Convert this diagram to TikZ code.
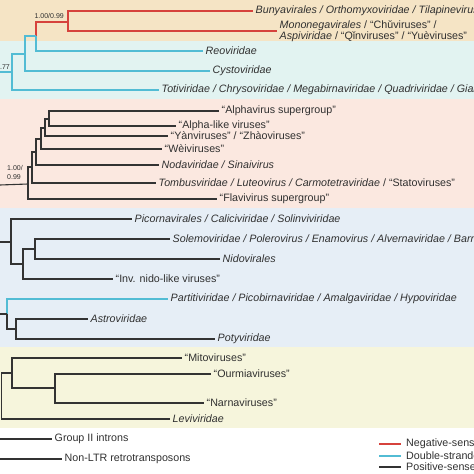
\documentclass[tikz,border=0pt]{standalone}
\usepackage{fontspec}
\setmainfont{Liberation Sans}
\usetikzlibrary{positioning}

\definecolor{negred}{HTML}{D6423C}
\definecolor{dscyan}{HTML}{52BCD4}
\definecolor{posgrey}{HTML}{333333}
\definecolor{txtgrey}{HTML}{303030}
\definecolor{bandtan}{HTML}{F5E4C5}
\definecolor{bandcyan}{HTML}{E2F3F1}
\definecolor{bandpink}{HTML}{FBE8E0}
\definecolor{bandblue}{HTML}{E6EEF6}
\definecolor{bandyel}{HTML}{F6F5DC}

\begin{document}
\begin{tikzpicture}[x=1pt,y=-1pt,
  br/.style={line width=1.1pt,posgrey},
  neg/.style={br,negred},
  dsr/.style={br,dscyan},
  tip/.style={anchor=west,inner sep=2.5pt,text=txtgrey,font=\fontsize{10.7}{9}\selectfont},
  supp/.style={inner sep=1pt,text=txtgrey,font=\fontsize{7}{8.5}\selectfont}]
\useasboundingbox (0,0) rectangle (474,474);
\clip (0,0) rectangle (474,474);

% coloured bands behind the clades
\fill[bandtan]  (0,0)   rectangle (474,41);
\fill[bandcyan] (0,41)  rectangle (474,99);
\fill[bandpink] (0,99)  rectangle (474,208);
\fill[bandblue] (0,208) rectangle (474,347);
\fill[bandyel]  (0,347) rectangle (474,428);

% tips
\node[tip] (bunya) at (253,11) {\textit{Bunyavirales / Orthomyxoviridae / Tilapinevirus}};
\node[tip,align=left] (monon) at (277,31) {\textit{Mononegavirales} / “Chǔviruses” /\\\textit{Aspiviridae} / “Qǐnviruses” / “Yuèviruses”};
\node[tip] (reo) at (203,51) {\textit{Reoviridae}};
\node[tip] (cysto) at (210,71) {\textit{Cystoviridae}};
\node[tip] (toti) at (159,90) {\textit{Totiviridae / Chrysoviridae / Megabirnaviridae / Quadriviridae / Giardiavirus}};
\node[tip] (alpha) at (219,111) {“Alphavirus supergroup”};
\node[tip] (alphal) at (176,126) {“Alpha-like viruses”};
\node[tip] (yan) at (168,136) {“Yànviruses” / “Zhàoviruses”};
\node[tip] (wei) at (162,149) {“Wèiviruses”};
\node[tip] (noda) at (159,165) {\textit{Nodaviridae / Sinaivirus}};
\node[tip] (tomb) at (156,183) {\textit{Tombusviridae / Luteovirus / Carmotetraviridae} / “Statoviruses”};
\node[tip] (flavi) at (217,199) {“Flavivirus supergroup”};
\node[tip] (picorna) at (132,219) {\textit{Picornavirales / Caliciviridae / Solinviviridae}};
\node[tip] (solemo) at (170,239) {\textit{Solemoviridae / Polerovirus / Enamovirus / Alvernaviridae / Barnaviridae}};
\node[tip] (nido) at (220,259) {\textit{Nidovirales}};
\node[tip] (inv) at (113,279) {“Inv. nido-like viruses”};
\node[tip] (parti) at (168,299) {\textit{Partitiviridae / Picobirnaviridae / Amalgaviridae / Hypoviridae}};
\node[tip] (astro) at (88,319) {\textit{Astroviridae}};
\node[tip] (poty) at (215,339) {\textit{Potyviridae}};
\node[tip] (mito) at (182,358) {“Mitoviruses”};
\node[tip] (ourmia) at (211,374) {“Ourmiaviruses”};
\node[tip] (narna) at (204,403) {“Narnaviruses”};
\node[tip] (levi) at (170,419) {\textit{Leviviridae}};
\node[tip] (intron) at (52,439) {Group II introns};
\node[tip] (nonltr) at (62,459) {Non-LTR retrotransposons};

% internal nodes
\coordinate (nNeg) at (68,22);
\coordinate (nDs1) at (36,36);
\coordinate (nDs2) at (25,54);
\coordinate (nDs3) at (12,72);
\coordinate (rDs) at (0,72);
\coordinate (nAlpha) at (49,119);
\coordinate (nYan) at (45,128);
\coordinate (nWei) at (41,139);
\coordinate (nNoda) at (36,152);
\coordinate (nTomb) at (32,167);
\coordinate (nFlavi) at (28,184);
\coordinate (rPos) at (0,185);
\coordinate (nNido) at (35,249);
\coordinate (nInv) at (23,264);
\coordinate (nPicorna) at (11,242);
\coordinate (rPicorna) at (0,242);
\coordinate (nAstro) at (16,329);
\coordinate (nParti) at (7,314);
\coordinate (rParti) at (0,314);
\coordinate (nNarna) at (55,388);
\coordinate (nMito) at (12,373);
\coordinate (nLevi) at (1.5,396);
\coordinate (rIntron) at (0,439);
\coordinate (rNonltr) at (0,459);

% negative-sense and dsRNA branches
\draw[neg] (nNeg) |- (bunya.west);
\draw[neg] (nNeg) |- (monon.west);
\draw[neg] (nDs1) |- (nNeg);
\draw[dsr] (nDs1) |- (reo.west);
\draw[dsr] (nDs2) |- (nDs1);
\draw[dsr] (nDs2) |- (cysto.west);
\draw[dsr] (nDs3) |- (nDs2);
\draw[dsr] (nDs3) |- (toti.west);
\draw[dsr] (rDs) -- (nDs3);
\draw[dsr] (nParti) |- (parti.west);

% positive-sense branches
\foreach \p/\c in {nAlpha/alpha.west,nAlpha/alphal.west,nYan/nAlpha,nYan/yan.west,
    nWei/nYan,nWei/wei.west,nNoda/nWei,nNoda/noda.west,nTomb/nNoda,nTomb/tomb.west,
    nFlavi/nTomb,nFlavi/flavi.west,nNido/solemo.west,nNido/nido.west,nInv/nNido,
    nInv/inv.west,nPicorna/picorna.west,nPicorna/nInv,nAstro/astro.west,
    nAstro/poty.west,nParti/nAstro,nNarna/ourmia.west,nNarna/narna.west,
    nMito/mito.west,nMito/nNarna,nLevi/nMito,nLevi/levi.west}
  \draw[br] (\p) |- (\c);
\draw[br] (rPos) -- (nFlavi);
\draw[br] (rPicorna) -- (nPicorna);
\draw[br] (rParti) -- (nParti);
\draw[br] (rIntron) -- (intron.west);
\draw[br] (rNonltr) -- (nonltr.west);

% support values
\node[supp,anchor=east] (sNeg) at (65,16) {1.00/0.99};
\node[supp,anchor=east] (sDs) at (11,67) {0.77};
\node[supp,anchor=west,align=left] (sPos) at (6,172.5) {1.00/\\0.99};

% legend
\node[tip,inner xsep=5pt] (kNeg) at (401,444) {Negative-sense RNA viruses};
\node[tip,inner xsep=5pt] (kDs) at (401,456) {Double-stranded RNA viruses};
\node[tip,inner xsep=5pt] (kPos) at (401,467) {Positive-sense RNA viruses};
\coordinate[left=22pt of kNeg.west] (lNeg);
\coordinate[left=22pt of kDs.west] (lDs);
\coordinate[left=22pt of kPos.west] (lPos);
\draw[neg] (lNeg) -- (kNeg.west);
\draw[dsr] (lDs) -- (kDs.west);
\draw[br] (lPos) -- (kPos.west);
\end{tikzpicture}
\end{document}
